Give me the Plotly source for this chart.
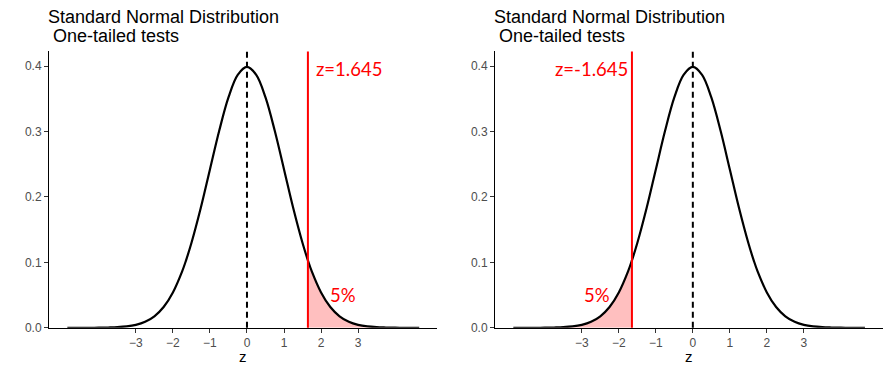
import plotly.graph_objects as go

# ---- data (standard normal density) ----
z_vals = [-4.85, -4.5, -4.25, -4.0, -3.75, -3.5, -3.25, -3.0, -2.75, -2.5, -2.25, -2.0,
          -1.75, -1.645, -1.5, -1.25, -1.0, -0.75, -0.5, -0.25, 0.0, 0.25, 0.5, 0.75, 1.0,
          1.25, 1.5, 1.645, 1.75, 2.0, 2.25, 2.5, 2.75, 3.0, 3.25, 3.5, 3.75, 4.0, 4.25, 4.5, 4.65]
density = [0.0000, 0.0000, 0.0000, 0.0001, 0.0004, 0.0009, 0.0020, 0.0044, 0.0091, 0.0175, 0.0317, 0.0540,
           0.0863, 0.1031, 0.1295, 0.1826, 0.2420, 0.3011, 0.3521, 0.3867, 0.3989, 0.3867, 0.3521, 0.3011, 0.2420,
           0.1826, 0.1295, 0.1031, 0.0863, 0.0540, 0.0317, 0.0175, 0.0091, 0.0044, 0.0020, 0.0009, 0.0004, 0.0001, 0.0000, 0.0000, 0.0000]
critical = [1.645, -1.645]
crit_labels = ["z=1.645", "z=-1.645"]
crit_label_x = [2.75, -2.75]
crit_label_y = 0.395
pct_label = "5%"
pct_label_x = [2.6, -2.6]
pct_label_y = 0.05
x_ticks = [-3, -2, -1, 0, 1, 2, 3]
y_ticks = [0.0, 0.1, 0.2, 0.3, 0.4]
title_1 = "Standard Normal Distribution"
title_2 = " One-tailed tests"
x_title = "z"

W, H = 891, 369
def px(v): return v / W
def py(v):
    v = (v + 0.62) / 0.9836   # empirical vertical correction
    return 1 - v / H

x_doms = [[px(49), px(437)], [px(495), px(882.7)]]
y_dom = [py(328), py(51)]
x_rng = [-5.345, 5.13]
y_rng = [0, 0.4224]

fig = go.Figure()
shapes = []
annotations = []
tick_font = dict(family="Liberation Sans, Arial", size=12, color="#4D4D4D")
red_font = dict(family="Lato", size=18.5, color="#FF0000")
title_font = dict(family="Liberation Sans, Arial", size=18, color="black")

for i in range(2):
    xa = "x" if i == 0 else "x2"
    ya = "y" if i == 0 else "y2"
    c = critical[i]
    if c > 0:
        tail = [(z, d) for z, d in zip(z_vals, density) if z >= c]
    else:
        tail = [(z, d) for z, d in zip(z_vals, density) if z <= c]
    fig.add_trace(go.Scatter(x=[t[0] for t in tail], y=[t[1] for t in tail], mode="lines",
                             line=dict(width=0, shape="spline"), fill="tozeroy",
                             fillcolor="rgba(255,0,0,0.25)", xaxis=xa, yaxis=ya,
                             hoverinfo="skip", showlegend=False))
    fig.add_trace(go.Scatter(x=z_vals, y=density, mode="lines",
                             line=dict(color="black", width=2.2, shape="spline"),
                             xaxis=xa, yaxis=ya, showlegend=False))
    shapes.append(dict(type="line", xref=xa, yref=ya + " domain", x0=0, x1=0, y0=0, y1=1,
                       line=dict(color="black", width=2, dash="6px,4px")))
    shapes.append(dict(type="line", xref=xa, yref=ya + " domain", x0=c, x1=c, y0=0, y1=1,
                       line=dict(color="#FF0000", width=2)))
    annotations.append(dict(x=crit_label_x[i], y=crit_label_y, xref=xa, yref=ya, text=crit_labels[i],
                            showarrow=False, font=red_font, xanchor="center", yanchor="middle"))
    annotations.append(dict(x=pct_label_x[i], y=pct_label_y, xref=xa, yref=ya, text=pct_label,
                            showarrow=False, font=red_font, xanchor="center", yanchor="middle"))
    x0 = x_doms[i][0] - 3 / W
    annotations.append(dict(x=x0, y=py(16), xref="paper", yref="paper", text=title_1,
                            showarrow=False, xanchor="left", yanchor="middle", font=title_font))
    annotations.append(dict(x=x0, y=py(35.5), xref="paper", yref="paper", text=title_2,
                            showarrow=False, xanchor="left", yanchor="middle", font=title_font))
    annotations.append(dict(x=(x_doms[i][0] + x_doms[i][1]) / 2, y=py(357), xref="paper", yref="paper",
                            text=x_title, showarrow=False, xanchor="center", yanchor="middle",
                            font=dict(family="Liberation Sans, Arial", size=15, color="black")))

axis_common = dict(showgrid=False, zeroline=False, showline=True, linecolor="black", linewidth=1,
                   ticks="outside", ticklen=4, tickcolor="#333333", tickwidth=1, tickfont=tick_font)

fig.update_layout(
    width=W, height=H, margin=dict(l=0, r=0, t=0, b=0),
    plot_bgcolor="white", paper_bgcolor="white", showlegend=False,
    shapes=shapes, annotations=annotations,
    xaxis=dict(domain=x_doms[0], range=x_rng, tickvals=x_ticks, anchor="y", **axis_common),
    xaxis2=dict(domain=x_doms[1], range=x_rng, tickvals=x_ticks, anchor="y2", **axis_common),
    yaxis=dict(domain=y_dom, range=y_rng, tickvals=y_ticks, tickformat=".1f", anchor="x", **axis_common),
    yaxis2=dict(domain=y_dom, range=y_rng, tickvals=y_ticks, tickformat=".1f", anchor="x2", **axis_common),
)

fig.write_html("out.html", config={"displayModeBar": False},
               post_script="document.body.style.margin='0px';document.body.style.overflow='hidden';")
